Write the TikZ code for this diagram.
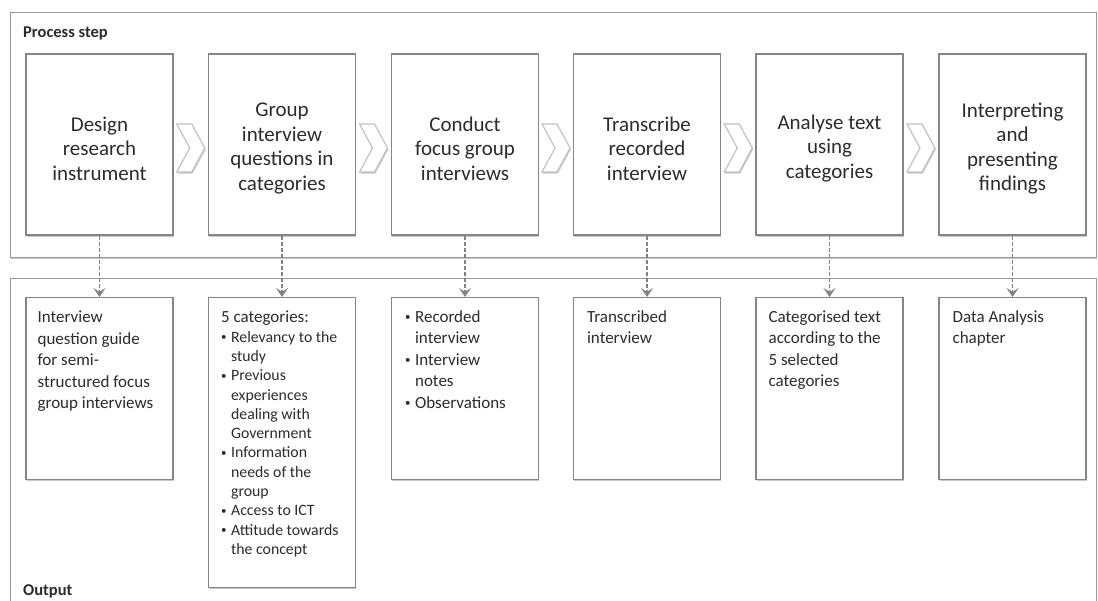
\documentclass[tikz,border=0pt]{standalone}
\usepackage{fontspec}
\setmainfont{Carlito}
\usetikzlibrary{arrows.meta,shadows,calc}

\definecolor{ink}{HTML}{2C2C2C}
\definecolor{boxline}{HTML}{858585}
\definecolor{frameline}{HTML}{9A9A9A}
\definecolor{chevline}{HTML}{C2C2C2}
\definecolor{flowline}{HTML}{828282}

% bullet and hanging indent for the item lists
\newcommand\bul{\makebox[10pt][l]{\raisebox{0.2ex}{\fontsize{11}{11}\selectfont\textbullet}}}
\newcommand\ind{\hspace*{10pt}}

\tikzset{
  softshadow/.style={drop shadow={shadow xshift=0.8pt, shadow yshift=-1.6pt, fill=black, opacity=0.22}},
  frame/.style={draw=frameline, line width=1.2pt, fill=white, softshadow, inner sep=0pt},
  stepbox/.style={draw=boxline, line width=1.2pt, fill=white, softshadow,
    minimum width=147pt, minimum height=181pt, inner sep=0pt},
  steptext/.style={inner sep=0pt, align=center, text=ink,
    font=\fontsize{21}{24.5}\selectfont},
  outbox/.style={draw=boxline, line width=1.2pt, fill=white, softshadow,
    minimum width=147pt, inner sep=0pt, anchor=north},
  outtext/.style={anchor=north west, inner sep=0pt, align=left, text=ink,
    font=\fontsize{17}{21.5}\selectfont},
  listtext/.style={outtext, font=\fontsize{15.8}{19.3}\selectfont},
  title/.style={anchor=base west, inner sep=0pt, text=ink, font=\fontsize{16.5}{18}\selectfont\bfseries},
  flow/.style={draw=flowline, line width=1.6pt, dash pattern=on 4pt off 2pt,
    -{Stealth[length=9pt, width=12pt, inset=4pt, sep=0pt]}},
  chev/.pic={
    \draw[chevline, line width=1.2pt, fill=white, softshadow, line join=miter]
      (-14,-24) -- (1,-24) -- (14,0) -- (1,24) -- (-14,24) -- (-1,0) -- cycle;
  },
}

\begin{document}
\begin{tikzpicture}[x=1pt, y=-1pt]
\useasboundingbox (0,0) rectangle (1098,601);
\fill[white] (0,0) rectangle (1098,601);

\begin{scope}
\clip (0,0) rectangle (1098,601);
% the two swim lanes
\node[frame, minimum width=1086pt, minimum height=245pt, anchor=north west] (lanestep) at (10,12) {};
\node[frame, minimum width=1086pt, minimum height=340pt, anchor=north west] (laneout) at (10,278) {};
\end{scope}

\node[title] (steptitle) at (23,38) {Process step};
\node[title] (outtitle) at (23,595) {Output};

% process steps
\node[stepbox] (s1) at (99.5,144.5)   {};
\node[stepbox] (s2) at (282,144.5)    {};
\node[stepbox] (s3) at (465,144.5)    {};
\node[stepbox] (s4) at (647,144.5)    {};
\node[stepbox] (s5) at (829.5,144.5)  {};
\node[stepbox] (s6) at (1012.5,144.5) {};

\node[steptext] (s1t) at ([yshift=-4pt]s1.center) {Design\\research\\instrument};
\node[steptext] (s2t) at ([yshift=-4pt]s2.center) {Group\\interview\\questions in\\categories};
\node[steptext] (s3t) at ([yshift=-4pt]s3.center) {Conduct\\focus group\\interviews};
\node[steptext] (s4t) at ([yshift=-4pt]s4.center) {Transcribe\\recorded\\interview};
\node[steptext] (s5t) at ([yshift=-4pt]s5.center) {Analyse text\\using\\categories};
\node[steptext] (s6t) at ([yshift=-4pt]s6.center) {Interpreting\\and\\presenting\\findings};

% chevrons between the steps
\foreach \a/\b in {s1/s2,s2/s3,s3/s4,s4/s5,s5/s6}
  \pic at ($(\a.east)!0.5!(\b.west)+(0,3.5)$) {chev};

% outputs
\node[outbox, minimum height=182pt] (o1) at (99.5,297)   {};
\node[outbox, minimum height=290pt] (o2) at (282,297)    {};
\node[outbox, minimum height=182pt] (o3) at (465,297)    {};
\node[outbox, minimum height=182pt] (o4) at (647,297)    {};
\node[outbox, minimum height=182pt] (o5) at (829.5,297)  {};
\node[outbox, minimum height=182pt] (o6) at (1012.5,297) {};

\node[outtext] (o1t) at ([xshift=12pt,yshift=-14pt]o1.north west)
  {Interview\\question guide\\for semi-\\structured focus\\group interviews};
\node[listtext] (o2t) at ([xshift=13pt,yshift=-14pt]o2.north west)
  {{\fontsize{17}{19.3}\selectfont 5 categories:}\\
   \bul Relevancy to the\\ \ind study\\
   \bul Previous\\ \ind experiences\\ \ind dealing with\\ \ind Government\\
   \bul Information\\ \ind needs of the\\ \ind group\\
   \bul Access to ICT\\
   \bul Attitude towards\\ \ind the concept};
\node[outtext] (o3t) at ([xshift=14pt,yshift=-13pt]o3.north west)
  {\bul Recorded\\ \ind interview\\ \bul Interview\\ \ind notes\\ \bul Observations};
\node[outtext] (o4t) at ([xshift=14pt,yshift=-13pt]o4.north west)
  {Transcribed\\interview};
\node[outtext] (o5t) at ([xshift=13pt,yshift=-13pt]o5.north west)
  {Categorised text\\according to the\\5 selected\\categories};
\node[outtext] (o6t) at ([xshift=14pt,yshift=-13pt]o6.north west)
  {Data Analysis\\chapter};

% each step produces its output
\foreach \i in {1,...,6}
  \draw[flow] (s\i) -- (o\i);
\end{tikzpicture}
\end{document}
